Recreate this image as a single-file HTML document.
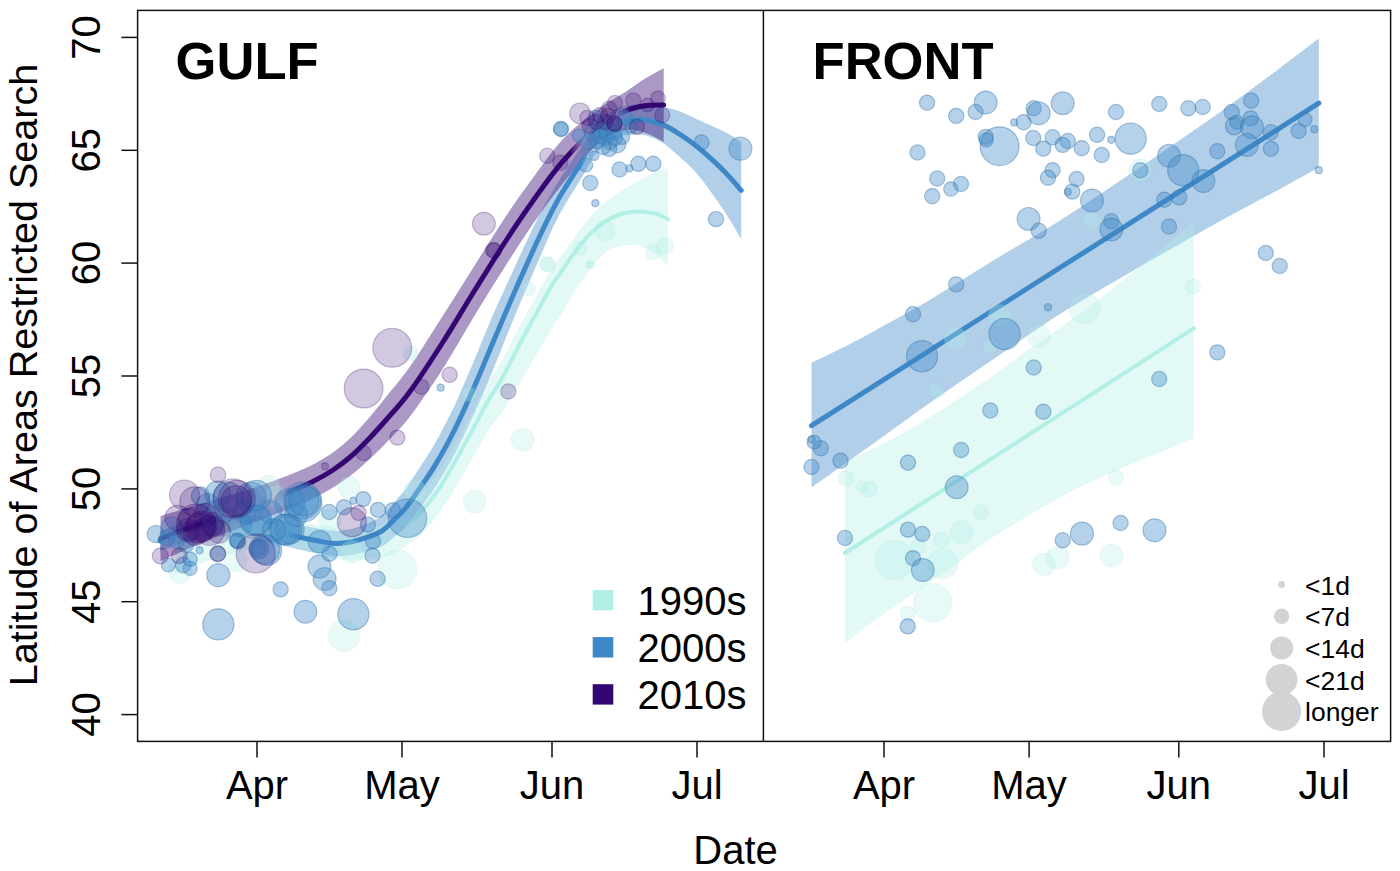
<!DOCTYPE html>
<html><head><meta charset="utf-8"><title>Latitude of Areas Restricted Search</title>
<style>html,body{margin:0;padding:0;background:#fff;}body{width:1400px;height:871px;overflow:hidden;font-family:"Liberation Sans",sans-serif;}</style></head>
<body>
<svg width="1400" height="871" viewBox="0 0 1400 871" style="display:block;font-family:'Liberation Sans',sans-serif">
<rect width="1400" height="871" fill="#fff"/>
<g id="gulf">
<path d="M160.0,531.0C165.0,529.3 180.0,523.6 190.0,521.0C200.0,518.4 210.0,516.4 220.0,515.5C230.0,514.6 240.0,514.8 250.0,515.5C260.0,516.2 271.7,518.5 280.0,520.0C288.3,521.5 293.8,523.4 300.0,524.8C306.2,526.2 311.5,527.3 317.2,528.3C322.9,529.3 328.6,530.8 334.4,530.9C340.1,531.0 345.9,530.3 351.7,528.9C357.4,527.5 363.7,525.0 368.9,522.7C374.1,520.4 378.3,518.5 382.7,514.9C387.1,511.3 391.5,505.2 395.3,500.9C399.1,496.6 400.7,495.8 405.6,489.0C410.5,482.2 419.9,467.5 424.7,460.1C429.5,452.7 430.6,451.2 434.3,444.6C438.1,438.0 443.0,428.9 447.2,420.6C451.4,412.3 454.3,406.3 459.3,395.0C464.3,383.7 471.5,366.6 477.2,353.0C482.9,339.4 487.3,327.9 493.6,313.5C499.9,299.1 507.6,282.3 515.0,266.4C522.4,250.5 530.8,232.0 537.9,218.0C545.0,204.0 550.4,194.8 557.9,182.5C565.4,170.2 576.6,154.3 583.0,144.5C589.4,134.7 590.7,129.4 596.3,123.4C601.9,117.4 610.9,111.8 616.5,108.7C622.1,105.7 624.9,105.8 629.8,105.1C634.7,104.4 640.2,104.2 646.0,104.5C651.8,104.8 658.6,105.7 664.3,106.9C670.0,108.1 674.9,109.6 680.3,111.6C685.6,113.6 690.6,116.4 696.4,119.0C702.1,121.6 709.4,124.7 714.8,127.2C720.2,129.7 724.2,131.4 728.6,133.9C733.0,136.4 739.1,140.6 741.2,141.9L741.2,238.9C739.1,235.4 733.0,224.9 728.6,217.9C724.2,210.9 720.2,204.7 714.8,197.2C709.4,189.7 702.1,179.6 696.4,173.0C690.6,166.4 685.6,162.4 680.3,157.6C674.9,152.8 670.0,147.6 664.3,143.9C658.6,140.2 651.8,137.0 646.0,135.5C640.2,134.0 634.7,134.7 629.8,135.1C624.9,135.5 622.1,134.6 616.5,137.7C610.9,140.8 601.9,147.1 596.3,153.4C590.7,159.7 589.4,164.8 583.0,175.5C576.6,186.2 565.4,203.1 557.9,217.5C550.4,231.9 545.0,245.7 537.9,262.0C530.8,278.4 522.4,297.9 515.0,315.6C507.6,333.4 499.9,353.3 493.6,368.5C487.3,383.7 482.9,394.2 477.2,407.0C471.5,419.8 464.3,434.9 459.3,445.0C454.3,455.1 451.4,460.3 447.2,467.6C443.0,474.9 438.1,482.9 434.3,488.6C430.6,494.4 429.5,495.7 424.7,502.1C419.9,508.5 410.5,521.4 405.6,527.0C400.7,532.6 399.1,532.8 395.3,535.9C391.5,539.0 387.1,543.4 382.7,545.9C378.3,548.4 374.1,549.2 368.9,550.7C363.7,552.2 357.4,554.0 351.7,554.9C345.9,555.8 340.1,556.2 334.4,555.9C328.6,555.6 322.9,554.3 317.2,553.3C311.5,552.3 306.2,551.2 300.0,549.8C293.8,548.4 288.3,546.9 280.0,545.0C271.7,543.1 260.0,539.9 250.0,538.5C240.0,537.1 230.0,536.1 220.0,536.5C210.0,536.9 200.0,538.6 190.0,541.0C180.0,543.4 165.0,549.3 160.0,551.0Z" fill="rgb(62,136,200)" fill-opacity="0.40"/>
<path d="M175.0,530.0C179.2,529.3 190.8,527.3 200.0,526.0C209.2,524.7 220.0,523.0 230.0,522.0C240.0,521.0 250.0,520.2 260.0,520.0C270.0,519.8 280.0,520.2 290.0,521.0C300.0,521.8 310.8,523.7 320.0,525.0C329.2,526.3 336.7,528.6 345.0,529.0C353.3,529.4 362.1,529.2 370.0,527.5C377.9,525.8 384.7,523.9 392.5,519.0C400.3,514.1 409.7,504.9 416.7,498.0C423.7,491.1 428.7,485.3 434.3,477.6C439.9,469.9 445.0,460.9 450.4,451.8C455.8,442.7 460.1,434.6 466.5,423.0C472.9,411.4 482.8,392.2 488.6,382.0C494.4,371.8 495.7,371.8 501.2,362.0C506.7,352.2 513.5,337.7 521.4,323.0C529.3,308.3 541.9,285.4 548.6,274.0C555.3,262.6 557.7,260.7 561.8,254.9C565.9,249.1 569.2,244.5 573.0,239.3C576.8,234.1 580.3,228.9 584.3,223.9C588.3,218.9 592.8,213.7 597.1,209.5C601.4,205.3 605.4,202.1 610.0,198.7C614.6,195.3 619.4,192.2 624.5,189.0C629.6,185.8 635.1,182.3 640.5,179.4C645.9,176.5 652.0,173.7 656.6,171.8C661.2,169.9 666.1,168.8 668.0,168.2L668.0,266.2C666.1,264.3 661.2,258.1 656.6,254.8C652.0,251.5 645.9,248.0 640.5,246.4C635.1,244.8 629.6,244.9 624.5,245.5C619.4,246.1 614.6,247.2 610.0,249.7C605.4,252.2 601.4,255.9 597.1,260.5C592.8,265.1 588.3,271.7 584.3,277.4C580.3,283.1 576.8,288.9 573.0,294.8C569.2,300.7 565.9,306.4 561.8,312.9C557.7,319.4 555.3,322.8 548.6,334.0C541.9,345.2 529.3,366.8 521.4,380.0C513.5,393.2 506.7,405.1 501.2,413.5C495.7,421.9 494.4,421.3 488.6,430.5C482.8,439.7 472.9,457.6 466.5,468.5C460.1,479.4 455.8,487.3 450.4,495.8C445.0,504.3 439.9,512.6 434.3,519.6C428.7,526.6 423.7,532.3 416.7,538.0C409.7,543.7 400.3,550.4 392.5,554.0C384.7,557.6 377.9,558.5 370.0,559.5C362.1,560.5 353.3,560.8 345.0,560.0C336.7,559.2 329.2,557.2 320.0,555.0C310.8,552.8 300.0,548.2 290.0,547.0C280.0,545.8 270.0,546.8 260.0,548.0C250.0,549.2 240.0,551.3 230.0,554.0C220.0,556.7 209.2,560.7 200.0,564.0C190.8,567.3 179.2,572.3 175.0,574.0Z" fill="rgb(177,239,231)" fill-opacity="0.37"/>
<path d="M160.5,516.0C165.4,514.5 181.2,509.7 190.0,507.0C198.8,504.3 203.5,502.9 213.5,499.9C223.5,496.9 238.9,492.6 250.0,489.0C261.1,485.4 269.7,482.6 280.0,478.6C290.3,474.6 303.2,469.4 312.0,465.0C320.8,460.6 326.3,457.2 333.0,452.5C339.7,447.8 345.8,442.5 352.0,436.5C358.2,430.5 364.3,423.3 370.0,416.7C375.7,410.1 379.3,405.4 386.0,397.0C392.7,388.6 400.4,380.2 410.0,366.5C419.6,352.8 432.9,331.2 443.6,314.5C454.3,297.8 463.8,282.5 474.3,266.0C484.8,249.5 496.5,230.3 506.4,215.5C516.3,200.7 524.0,189.9 533.6,177.0C543.2,164.1 552.9,149.5 564.0,138.0C575.1,126.5 589.8,115.7 600.0,108.0C610.2,100.3 617.8,96.9 625.3,92.0C632.8,87.1 638.4,82.8 644.8,78.8C651.2,74.8 660.6,70.0 663.7,68.2L663.7,141.8C660.6,140.3 651.2,134.8 644.8,132.8C638.4,130.8 632.8,128.5 625.3,130.0C617.8,131.5 610.2,133.3 600.0,142.0C589.8,150.7 575.1,168.5 564.0,182.0C552.9,195.5 543.2,209.2 533.6,223.0C524.0,236.8 516.3,249.0 506.4,264.5C496.5,280.0 484.8,298.8 474.3,316.0C463.8,333.2 454.3,350.8 443.6,367.5C432.9,384.2 419.6,403.9 410.0,416.5C400.4,429.1 392.7,436.0 386.0,443.0C379.3,450.0 375.7,453.4 370.0,458.7C364.3,463.9 358.2,469.7 352.0,474.5C345.8,479.3 339.7,483.4 333.0,487.5C326.3,491.6 320.8,494.8 312.0,499.0C303.2,503.2 290.3,508.4 280.0,512.6C269.7,516.8 261.1,519.8 250.0,524.0C238.9,528.2 223.5,533.9 213.5,537.9C203.5,541.9 198.8,544.1 190.0,548.0C181.2,551.9 165.4,558.8 160.5,561.0Z" fill="rgb(52,6,114)" fill-opacity="0.41"/>
<defs><linearGradient id="gP" gradientUnits="userSpaceOnUse" x1="150" y1="0" x2="800" y2="0"><stop offset="0.0000" stop-color="rgb(153,153,153)"/><stop offset="0.0923" stop-color="rgb(140,140,140)"/><stop offset="0.1138" stop-color="rgb(0,0,0)"/><stop offset="0.1969" stop-color="rgb(0,0,0)"/><stop offset="0.2277" stop-color="rgb(255,255,255)"/><stop offset="0.6462" stop-color="rgb(255,255,255)"/><stop offset="0.6677" stop-color="rgb(0,0,0)"/><stop offset="0.7169" stop-color="rgb(0,0,0)"/><stop offset="0.7385" stop-color="rgb(255,255,255)"/><stop offset="1.0000" stop-color="rgb(255,255,255)"/></linearGradient><mask id="mP" maskUnits="userSpaceOnUse" x="0" y="0" width="1400" height="871"><rect x="0" y="0" width="1400" height="871" fill="url(#gP)"/></mask><linearGradient id="gB" gradientUnits="userSpaceOnUse" x1="150" y1="0" x2="800" y2="0"><stop offset="0.0000" stop-color="rgb(255,255,255)"/><stop offset="0.0200" stop-color="rgb(255,255,255)"/><stop offset="0.0262" stop-color="rgb(0,0,0)"/><stop offset="0.2062" stop-color="rgb(0,0,0)"/><stop offset="0.2308" stop-color="rgb(255,255,255)"/><stop offset="0.6631" stop-color="rgb(255,255,255)"/><stop offset="0.6800" stop-color="rgb(0,0,0)"/><stop offset="0.7138" stop-color="rgb(0,0,0)"/><stop offset="0.7338" stop-color="rgb(255,255,255)"/><stop offset="1.0000" stop-color="rgb(255,255,255)"/></linearGradient><mask id="mB" maskUnits="userSpaceOnUse" x="0" y="0" width="1400" height="871"><rect x="0" y="0" width="1400" height="871" fill="url(#gB)"/></mask><linearGradient id="gT" gradientUnits="userSpaceOnUse" x1="150" y1="0" x2="800" y2="0"><stop offset="0.0000" stop-color="rgb(0,0,0)"/><stop offset="0.3877" stop-color="rgb(0,0,0)"/><stop offset="0.4154" stop-color="rgb(255,255,255)"/><stop offset="1.0000" stop-color="rgb(255,255,255)"/></linearGradient><mask id="mT" maskUnits="userSpaceOnUse" x="0" y="0" width="1400" height="871"><rect x="0" y="0" width="1400" height="871" fill="url(#gT)"/></mask></defs>
<path d="M175.0,552.0C179.2,550.8 190.8,547.3 200.0,545.0C209.2,542.7 220.0,539.8 230.0,538.0C240.0,536.2 250.0,534.7 260.0,534.0C270.0,533.3 280.0,533.2 290.0,534.0C300.0,534.8 310.8,537.3 320.0,539.0C329.2,540.7 336.7,543.2 345.0,544.0C353.3,544.8 362.1,544.8 370.0,543.5C377.9,542.2 384.7,540.6 392.5,536.0C400.3,531.4 409.7,522.7 416.7,516.0C423.7,509.3 428.7,503.3 434.3,495.6C439.9,487.9 445.0,478.9 450.4,469.8C455.8,460.7 460.1,452.6 466.5,441.0C472.9,429.4 482.8,410.2 488.6,400.0C494.4,389.8 495.7,389.8 501.2,380.0C506.7,370.2 513.5,355.8 521.4,341.0C529.3,326.2 541.9,302.7 548.6,291.0C555.3,279.3 557.7,276.9 561.8,270.9C565.9,264.9 569.2,259.9 573.0,254.8C576.8,249.7 580.3,245.0 584.3,240.4C588.3,235.8 592.8,231.1 597.1,227.5C601.4,223.9 605.4,221.1 610.0,218.7C614.6,216.3 619.4,214.2 624.5,213.0C629.6,211.8 635.1,211.3 640.5,211.4C645.9,211.5 652.0,212.5 656.6,213.8C661.2,215.1 666.1,218.3 668.0,219.2" fill="none" stroke="rgb(177,239,231)" stroke-width="4" stroke-linecap="round" mask="url(#mT)"/>
<path d="M160.0,541.0C165.0,539.3 180.0,533.5 190.0,531.0C200.0,528.5 210.0,526.7 220.0,526.0C230.0,525.3 240.0,525.9 250.0,527.0C260.0,528.1 271.7,530.8 280.0,532.5C288.3,534.2 293.8,535.9 300.0,537.3C306.2,538.7 311.5,539.8 317.2,540.8C322.9,541.8 328.6,543.2 334.4,543.4C340.1,543.6 345.9,543.0 351.7,541.9C357.4,540.8 363.7,538.6 368.9,536.7C374.1,534.8 378.3,533.5 382.7,530.4C387.1,527.3 391.5,522.1 395.3,518.4C399.1,514.7 400.7,514.2 405.6,508.0C410.5,501.8 419.9,488.0 424.7,481.1C429.5,474.2 430.6,472.8 434.3,466.6C438.1,460.4 443.0,451.9 447.2,444.1C451.4,436.3 454.3,430.7 459.3,420.0C464.3,409.3 471.5,393.2 477.2,380.0C482.9,366.8 487.3,355.8 493.6,341.0C499.9,326.2 507.6,307.8 515.0,291.0C522.4,274.2 530.8,255.2 537.9,240.0C545.0,224.8 550.4,213.3 557.9,200.0C565.4,186.7 576.6,170.3 583.0,160.0C589.4,149.7 590.7,144.5 596.3,138.4C601.9,132.3 610.9,126.2 616.5,123.2C622.1,120.2 624.9,120.6 629.8,120.1C634.7,119.6 640.2,119.1 646.0,120.0C651.8,120.9 658.6,123.0 664.3,125.4C670.0,127.8 674.9,131.2 680.3,134.6C685.6,138.0 690.6,141.4 696.4,146.0C702.1,150.6 709.4,157.2 714.8,162.2C720.2,167.2 724.2,171.2 728.6,175.9C733.0,180.6 739.1,188.0 741.2,190.4" fill="none" stroke="rgb(62,136,200)" stroke-width="5" stroke-linecap="round" mask="url(#mB)"/>
<path d="M160.5,538.5C165.4,536.7 181.2,530.8 190.0,527.5C198.8,524.2 203.5,522.4 213.5,518.9C223.5,515.4 238.9,510.4 250.0,506.5C261.1,502.6 269.7,499.7 280.0,495.6C290.3,491.5 303.2,486.3 312.0,482.0C320.8,477.7 326.3,474.4 333.0,470.0C339.7,465.6 345.8,460.9 352.0,455.5C358.2,450.1 364.3,443.6 370.0,437.7C375.7,431.8 379.3,427.7 386.0,420.0C392.7,412.3 400.4,404.7 410.0,391.5C419.6,378.3 432.9,357.8 443.6,341.0C454.3,324.2 463.8,307.8 474.3,291.0C484.8,274.2 496.5,255.2 506.4,240.0C516.3,224.8 524.0,213.3 533.6,200.0C543.2,186.7 552.9,172.5 564.0,160.0C575.1,147.5 589.8,133.2 600.0,125.0C610.2,116.8 617.8,114.2 625.3,111.0C632.8,107.8 638.4,106.8 644.8,105.8C651.2,104.8 660.6,105.1 663.7,105.0" fill="none" stroke="rgb(52,6,114)" stroke-width="5" stroke-linecap="round" mask="url(#mP)"/>
<circle cx="344.0" cy="635.7" r="15.6" fill="rgb(177,239,231)" fill-opacity="0.30" stroke="rgb(150,203,196)" stroke-opacity="0.10" stroke-width="1.2"/>
<circle cx="397.6" cy="569.5" r="19.4" fill="rgb(177,239,231)" fill-opacity="0.30" stroke="rgb(150,203,196)" stroke-opacity="0.10" stroke-width="1.2"/>
<circle cx="474.7" cy="501.7" r="11.4" fill="rgb(177,239,231)" fill-opacity="0.30" stroke="rgb(150,203,196)" stroke-opacity="0.10" stroke-width="1.2"/>
<circle cx="522.7" cy="439.8" r="11.4" fill="rgb(177,239,231)" fill-opacity="0.30" stroke="rgb(150,203,196)" stroke-opacity="0.10" stroke-width="1.2"/>
<circle cx="415.0" cy="491.0" r="11.4" fill="rgb(177,239,231)" fill-opacity="0.30" stroke="rgb(150,203,196)" stroke-opacity="0.10" stroke-width="1.2"/>
<circle cx="349.0" cy="487.5" r="11.0" fill="rgb(177,239,231)" fill-opacity="0.30" stroke="rgb(150,203,196)" stroke-opacity="0.10" stroke-width="1.2"/>
<circle cx="411.0" cy="353.6" r="7.6" fill="rgb(177,239,231)" fill-opacity="0.30" stroke="rgb(150,203,196)" stroke-opacity="0.10" stroke-width="1.2"/>
<circle cx="547.0" cy="264.0" r="7.6" fill="rgb(177,239,231)" fill-opacity="0.30" stroke="rgb(150,203,196)" stroke-opacity="0.10" stroke-width="1.2"/>
<circle cx="590.0" cy="264.7" r="3.5" fill="rgb(177,239,231)" fill-opacity="0.30" stroke="rgb(150,203,196)" stroke-opacity="0.10" stroke-width="1.2"/>
<circle cx="469.0" cy="394.0" r="7.6" fill="rgb(177,239,231)" fill-opacity="0.30" stroke="rgb(150,203,196)" stroke-opacity="0.10" stroke-width="1.2"/>
<circle cx="528.5" cy="289.0" r="7.0" fill="rgb(177,239,231)" fill-opacity="0.30" stroke="rgb(150,203,196)" stroke-opacity="0.10" stroke-width="1.2"/>
<circle cx="605.0" cy="230.6" r="10.0" fill="rgb(177,239,231)" fill-opacity="0.30" stroke="rgb(150,203,196)" stroke-opacity="0.10" stroke-width="1.2"/>
<circle cx="548.0" cy="264.6" r="7.6" fill="rgb(177,239,231)" fill-opacity="0.30" stroke="rgb(150,203,196)" stroke-opacity="0.10" stroke-width="1.2"/>
<circle cx="653.0" cy="252.5" r="7.6" fill="rgb(177,239,231)" fill-opacity="0.30" stroke="rgb(150,203,196)" stroke-opacity="0.10" stroke-width="1.2"/>
<circle cx="665.0" cy="246.0" r="8.5" fill="rgb(177,239,231)" fill-opacity="0.30" stroke="rgb(150,203,196)" stroke-opacity="0.10" stroke-width="1.2"/>
<circle cx="580.0" cy="248.0" r="7.0" fill="rgb(177,239,231)" fill-opacity="0.30" stroke="rgb(150,203,196)" stroke-opacity="0.10" stroke-width="1.2"/>
<circle cx="590.7" cy="264.6" r="3.5" fill="rgb(177,239,231)" fill-opacity="0.30" stroke="rgb(150,203,196)" stroke-opacity="0.10" stroke-width="1.2"/>
<circle cx="276.3" cy="497.0" r="11.5" fill="rgb(177,239,231)" fill-opacity="0.30" stroke="rgb(150,203,196)" stroke-opacity="0.10" stroke-width="1.2"/>
<circle cx="351.7" cy="551.7" r="11.5" fill="rgb(177,239,231)" fill-opacity="0.30" stroke="rgb(150,203,196)" stroke-opacity="0.10" stroke-width="1.2"/>
<circle cx="330.0" cy="520.0" r="11.0" fill="rgb(177,239,231)" fill-opacity="0.30" stroke="rgb(150,203,196)" stroke-opacity="0.10" stroke-width="1.2"/>
<circle cx="180.0" cy="572.0" r="11.5" fill="rgb(177,239,231)" fill-opacity="0.30" stroke="rgb(150,203,196)" stroke-opacity="0.10" stroke-width="1.2"/>
<circle cx="236.0" cy="560.0" r="11.5" fill="rgb(177,239,231)" fill-opacity="0.30" stroke="rgb(150,203,196)" stroke-opacity="0.10" stroke-width="1.2"/>
<circle cx="236.0" cy="531.0" r="11.5" fill="rgb(177,239,231)" fill-opacity="0.30" stroke="rgb(150,203,196)" stroke-opacity="0.10" stroke-width="1.2"/>
<circle cx="268.6" cy="486.7" r="11.5" fill="rgb(177,239,231)" fill-opacity="0.30" stroke="rgb(150,203,196)" stroke-opacity="0.10" stroke-width="1.2"/>
<circle cx="218.3" cy="624.4" r="15.6" fill="rgb(62,136,200)" fill-opacity="0.38" stroke="rgb(52,115,170)" stroke-opacity="0.42" stroke-width="1.2"/>
<circle cx="305.4" cy="611.7" r="11.4" fill="rgb(62,136,200)" fill-opacity="0.38" stroke="rgb(52,115,170)" stroke-opacity="0.42" stroke-width="1.2"/>
<circle cx="353.4" cy="614.2" r="15.6" fill="rgb(62,136,200)" fill-opacity="0.38" stroke="rgb(52,115,170)" stroke-opacity="0.42" stroke-width="1.2"/>
<circle cx="280.6" cy="589.4" r="7.6" fill="rgb(62,136,200)" fill-opacity="0.38" stroke="rgb(52,115,170)" stroke-opacity="0.42" stroke-width="1.2"/>
<circle cx="377.6" cy="578.8" r="7.6" fill="rgb(62,136,200)" fill-opacity="0.38" stroke="rgb(52,115,170)" stroke-opacity="0.42" stroke-width="1.2"/>
<circle cx="218.3" cy="575.2" r="11.5" fill="rgb(62,136,200)" fill-opacity="0.38" stroke="rgb(52,115,170)" stroke-opacity="0.42" stroke-width="1.2"/>
<circle cx="324.6" cy="579.0" r="11.4" fill="rgb(62,136,200)" fill-opacity="0.38" stroke="rgb(52,115,170)" stroke-opacity="0.42" stroke-width="1.2"/>
<circle cx="329.4" cy="588.2" r="7.6" fill="rgb(62,136,200)" fill-opacity="0.38" stroke="rgb(52,115,170)" stroke-opacity="0.42" stroke-width="1.2"/>
<circle cx="319.4" cy="566.5" r="11.4" fill="rgb(62,136,200)" fill-opacity="0.38" stroke="rgb(52,115,170)" stroke-opacity="0.42" stroke-width="1.2"/>
<circle cx="407.5" cy="518.3" r="19.2" fill="rgb(62,136,200)" fill-opacity="0.38" stroke="rgb(52,115,170)" stroke-opacity="0.42" stroke-width="1.2"/>
<circle cx="372.5" cy="555.7" r="7.6" fill="rgb(62,136,200)" fill-opacity="0.38" stroke="rgb(52,115,170)" stroke-opacity="0.42" stroke-width="1.2"/>
<circle cx="329.4" cy="553.8" r="7.6" fill="rgb(62,136,200)" fill-opacity="0.38" stroke="rgb(52,115,170)" stroke-opacity="0.42" stroke-width="1.2"/>
<circle cx="319.5" cy="541.7" r="11.2" fill="rgb(62,136,200)" fill-opacity="0.38" stroke="rgb(52,115,170)" stroke-opacity="0.42" stroke-width="1.2"/>
<circle cx="329.3" cy="512.0" r="7.6" fill="rgb(62,136,200)" fill-opacity="0.38" stroke="rgb(52,115,170)" stroke-opacity="0.42" stroke-width="1.2"/>
<circle cx="344.0" cy="507.2" r="7.6" fill="rgb(62,136,200)" fill-opacity="0.38" stroke="rgb(52,115,170)" stroke-opacity="0.42" stroke-width="1.2"/>
<circle cx="353.4" cy="500.8" r="3.5" fill="rgb(62,136,200)" fill-opacity="0.38" stroke="rgb(52,115,170)" stroke-opacity="0.42" stroke-width="1.2"/>
<circle cx="363.3" cy="499.0" r="7.4" fill="rgb(62,136,200)" fill-opacity="0.38" stroke="rgb(52,115,170)" stroke-opacity="0.42" stroke-width="1.2"/>
<circle cx="378.0" cy="509.9" r="7.6" fill="rgb(62,136,200)" fill-opacity="0.38" stroke="rgb(52,115,170)" stroke-opacity="0.42" stroke-width="1.2"/>
<circle cx="392.8" cy="510.2" r="7.6" fill="rgb(62,136,200)" fill-opacity="0.38" stroke="rgb(52,115,170)" stroke-opacity="0.42" stroke-width="1.2"/>
<circle cx="367.9" cy="524.6" r="7.6" fill="rgb(62,136,200)" fill-opacity="0.38" stroke="rgb(52,115,170)" stroke-opacity="0.42" stroke-width="1.2"/>
<circle cx="373.0" cy="541.2" r="7.6" fill="rgb(62,136,200)" fill-opacity="0.38" stroke="rgb(52,115,170)" stroke-opacity="0.42" stroke-width="1.2"/>
<circle cx="440.7" cy="387.7" r="3.5" fill="rgb(62,136,200)" fill-opacity="0.38" stroke="rgb(52,115,170)" stroke-opacity="0.42" stroke-width="1.2"/>
<circle cx="155.7" cy="534.0" r="8.6" fill="rgb(62,136,200)" fill-opacity="0.38" stroke="rgb(52,115,170)" stroke-opacity="0.42" stroke-width="1.2"/>
<circle cx="200.5" cy="496.0" r="9.2" fill="rgb(62,136,200)" fill-opacity="0.38" stroke="rgb(52,115,170)" stroke-opacity="0.42" stroke-width="1.2"/>
<circle cx="217.8" cy="493.8" r="12.6" fill="rgb(62,136,200)" fill-opacity="0.38" stroke="rgb(52,115,170)" stroke-opacity="0.42" stroke-width="1.2"/>
<circle cx="228.0" cy="497.2" r="15.0" fill="rgb(62,136,200)" fill-opacity="0.38" stroke="rgb(52,115,170)" stroke-opacity="0.42" stroke-width="1.2"/>
<circle cx="251.0" cy="497.2" r="15.0" fill="rgb(62,136,200)" fill-opacity="0.38" stroke="rgb(52,115,170)" stroke-opacity="0.42" stroke-width="1.2"/>
<circle cx="256.8" cy="520.2" r="15.0" fill="rgb(62,136,200)" fill-opacity="0.38" stroke="rgb(52,115,170)" stroke-opacity="0.42" stroke-width="1.2"/>
<circle cx="264.8" cy="548.9" r="15.0" fill="rgb(62,136,200)" fill-opacity="0.38" stroke="rgb(52,115,170)" stroke-opacity="0.42" stroke-width="1.2"/>
<circle cx="257.4" cy="548.4" r="8.2" fill="rgb(62,136,200)" fill-opacity="0.38" stroke="rgb(52,115,170)" stroke-opacity="0.42" stroke-width="1.2"/>
<circle cx="237.9" cy="541.4" r="7.8" fill="rgb(62,136,200)" fill-opacity="0.38" stroke="rgb(52,115,170)" stroke-opacity="0.42" stroke-width="1.2"/>
<circle cx="284.4" cy="529.4" r="15.0" fill="rgb(62,136,200)" fill-opacity="0.38" stroke="rgb(52,115,170)" stroke-opacity="0.42" stroke-width="1.2"/>
<circle cx="290.0" cy="503.0" r="15.0" fill="rgb(62,136,200)" fill-opacity="0.38" stroke="rgb(52,115,170)" stroke-opacity="0.42" stroke-width="1.2"/>
<circle cx="302.5" cy="500.4" r="18.5" fill="rgb(62,136,200)" fill-opacity="0.38" stroke="rgb(52,115,170)" stroke-opacity="0.42" stroke-width="1.2"/>
<circle cx="289.6" cy="529.3" r="14.5" fill="rgb(62,136,200)" fill-opacity="0.38" stroke="rgb(52,115,170)" stroke-opacity="0.42" stroke-width="1.2"/>
<circle cx="296.0" cy="515.0" r="11.5" fill="rgb(62,136,200)" fill-opacity="0.38" stroke="rgb(52,115,170)" stroke-opacity="0.42" stroke-width="1.2"/>
<circle cx="168.4" cy="565.0" r="7.0" fill="rgb(62,136,200)" fill-opacity="0.38" stroke="rgb(52,115,170)" stroke-opacity="0.42" stroke-width="1.2"/>
<circle cx="183.3" cy="565.0" r="7.8" fill="rgb(62,136,200)" fill-opacity="0.38" stroke="rgb(52,115,170)" stroke-opacity="0.42" stroke-width="1.2"/>
<circle cx="190.2" cy="568.4" r="7.0" fill="rgb(62,136,200)" fill-opacity="0.38" stroke="rgb(52,115,170)" stroke-opacity="0.42" stroke-width="1.2"/>
<circle cx="190.2" cy="559.2" r="7.0" fill="rgb(62,136,200)" fill-opacity="0.38" stroke="rgb(52,115,170)" stroke-opacity="0.42" stroke-width="1.2"/>
<circle cx="199.5" cy="550.2" r="3.5" fill="rgb(62,136,200)" fill-opacity="0.38" stroke="rgb(52,115,170)" stroke-opacity="0.42" stroke-width="1.2"/>
<circle cx="217.8" cy="553.6" r="7.8" fill="rgb(62,136,200)" fill-opacity="0.38" stroke="rgb(52,115,170)" stroke-opacity="0.42" stroke-width="1.2"/>
<circle cx="236.4" cy="540.7" r="7.0" fill="rgb(62,136,200)" fill-opacity="0.38" stroke="rgb(52,115,170)" stroke-opacity="0.42" stroke-width="1.2"/>
<circle cx="167.0" cy="538.0" r="7.6" fill="rgb(62,136,200)" fill-opacity="0.38" stroke="rgb(52,115,170)" stroke-opacity="0.42" stroke-width="1.2"/>
<circle cx="176.4" cy="541.0" r="7.6" fill="rgb(62,136,200)" fill-opacity="0.38" stroke="rgb(52,115,170)" stroke-opacity="0.42" stroke-width="1.2"/>
<circle cx="172.0" cy="528.0" r="11.0" fill="rgb(62,136,200)" fill-opacity="0.38" stroke="rgb(52,115,170)" stroke-opacity="0.42" stroke-width="1.2"/>
<circle cx="245.0" cy="512.0" r="11.5" fill="rgb(62,136,200)" fill-opacity="0.38" stroke="rgb(52,115,170)" stroke-opacity="0.42" stroke-width="1.2"/>
<circle cx="270.0" cy="512.0" r="11.5" fill="rgb(62,136,200)" fill-opacity="0.38" stroke="rgb(52,115,170)" stroke-opacity="0.42" stroke-width="1.2"/>
<circle cx="213.0" cy="518.0" r="11.5" fill="rgb(62,136,200)" fill-opacity="0.38" stroke="rgb(52,115,170)" stroke-opacity="0.42" stroke-width="1.2"/>
<circle cx="186.0" cy="545.0" r="7.6" fill="rgb(62,136,200)" fill-opacity="0.38" stroke="rgb(52,115,170)" stroke-opacity="0.42" stroke-width="1.2"/>
<circle cx="208.0" cy="505.0" r="11.5" fill="rgb(62,136,200)" fill-opacity="0.38" stroke="rgb(52,115,170)" stroke-opacity="0.42" stroke-width="1.2"/>
<circle cx="240.0" cy="525.0" r="11.5" fill="rgb(62,136,200)" fill-opacity="0.38" stroke="rgb(52,115,170)" stroke-opacity="0.42" stroke-width="1.2"/>
<circle cx="274.0" cy="530.0" r="11.5" fill="rgb(62,136,200)" fill-opacity="0.38" stroke="rgb(52,115,170)" stroke-opacity="0.42" stroke-width="1.2"/>
<circle cx="225.0" cy="515.0" r="7.6" fill="rgb(62,136,200)" fill-opacity="0.38" stroke="rgb(52,115,170)" stroke-opacity="0.42" stroke-width="1.2"/>
<circle cx="303.5" cy="503.3" r="18.4" fill="rgb(62,136,200)" fill-opacity="0.38" stroke="rgb(52,115,170)" stroke-opacity="0.42" stroke-width="1.2"/>
<circle cx="304.0" cy="501.0" r="15.0" fill="rgb(62,136,200)" fill-opacity="0.38" stroke="rgb(52,115,170)" stroke-opacity="0.42" stroke-width="1.2"/>
<circle cx="286.3" cy="529.7" r="15.5" fill="rgb(62,136,200)" fill-opacity="0.38" stroke="rgb(52,115,170)" stroke-opacity="0.42" stroke-width="1.2"/>
<circle cx="256.4" cy="495.3" r="15.0" fill="rgb(62,136,200)" fill-opacity="0.38" stroke="rgb(52,115,170)" stroke-opacity="0.42" stroke-width="1.2"/>
<circle cx="255.3" cy="520.5" r="15.0" fill="rgb(62,136,200)" fill-opacity="0.38" stroke="rgb(52,115,170)" stroke-opacity="0.42" stroke-width="1.2"/>
<circle cx="258.7" cy="549.2" r="9.8" fill="rgb(62,136,200)" fill-opacity="0.38" stroke="rgb(52,115,170)" stroke-opacity="0.42" stroke-width="1.2"/>
<circle cx="266.7" cy="550.4" r="15.0" fill="rgb(62,136,200)" fill-opacity="0.38" stroke="rgb(52,115,170)" stroke-opacity="0.42" stroke-width="1.2"/>
<circle cx="237.5" cy="540.6" r="7.5" fill="rgb(62,136,200)" fill-opacity="0.38" stroke="rgb(52,115,170)" stroke-opacity="0.42" stroke-width="1.2"/>
<circle cx="561.0" cy="129.0" r="7.6" fill="rgb(62,136,200)" fill-opacity="0.38" stroke="rgb(52,115,170)" stroke-opacity="0.42" stroke-width="1.2"/>
<circle cx="596.0" cy="117.9" r="7.6" fill="rgb(62,136,200)" fill-opacity="0.38" stroke="rgb(52,115,170)" stroke-opacity="0.42" stroke-width="1.2"/>
<circle cx="614.4" cy="132.8" r="7.6" fill="rgb(62,136,200)" fill-opacity="0.38" stroke="rgb(52,115,170)" stroke-opacity="0.42" stroke-width="1.2"/>
<circle cx="631.0" cy="127.0" r="6.0" fill="rgb(62,136,200)" fill-opacity="0.38" stroke="rgb(52,115,170)" stroke-opacity="0.42" stroke-width="1.2"/>
<circle cx="578.8" cy="135.7" r="6.5" fill="rgb(62,136,200)" fill-opacity="0.38" stroke="rgb(52,115,170)" stroke-opacity="0.42" stroke-width="1.2"/>
<circle cx="617.3" cy="144.3" r="8.5" fill="rgb(62,136,200)" fill-opacity="0.38" stroke="rgb(52,115,170)" stroke-opacity="0.42" stroke-width="1.2"/>
<circle cx="609.2" cy="148.9" r="7.6" fill="rgb(62,136,200)" fill-opacity="0.38" stroke="rgb(52,115,170)" stroke-opacity="0.42" stroke-width="1.2"/>
<circle cx="610.0" cy="142.0" r="7.6" fill="rgb(62,136,200)" fill-opacity="0.38" stroke="rgb(52,115,170)" stroke-opacity="0.42" stroke-width="1.2"/>
<circle cx="594.3" cy="155.8" r="4.6" fill="rgb(62,136,200)" fill-opacity="0.38" stroke="rgb(52,115,170)" stroke-opacity="0.42" stroke-width="1.2"/>
<circle cx="585.7" cy="165.0" r="7.0" fill="rgb(62,136,200)" fill-opacity="0.38" stroke="rgb(52,115,170)" stroke-opacity="0.42" stroke-width="1.2"/>
<circle cx="619.5" cy="169.5" r="7.6" fill="rgb(62,136,200)" fill-opacity="0.38" stroke="rgb(52,115,170)" stroke-opacity="0.42" stroke-width="1.2"/>
<circle cx="629.4" cy="168.4" r="3.5" fill="rgb(62,136,200)" fill-opacity="0.38" stroke="rgb(52,115,170)" stroke-opacity="0.42" stroke-width="1.2"/>
<circle cx="638.4" cy="163.8" r="7.6" fill="rgb(62,136,200)" fill-opacity="0.38" stroke="rgb(52,115,170)" stroke-opacity="0.42" stroke-width="1.2"/>
<circle cx="653.3" cy="163.8" r="7.6" fill="rgb(62,136,200)" fill-opacity="0.38" stroke="rgb(52,115,170)" stroke-opacity="0.42" stroke-width="1.2"/>
<circle cx="590.3" cy="183.0" r="7.6" fill="rgb(62,136,200)" fill-opacity="0.38" stroke="rgb(52,115,170)" stroke-opacity="0.42" stroke-width="1.2"/>
<circle cx="595.3" cy="203.2" r="3.5" fill="rgb(62,136,200)" fill-opacity="0.38" stroke="rgb(52,115,170)" stroke-opacity="0.42" stroke-width="1.2"/>
<circle cx="701.5" cy="142.5" r="7.6" fill="rgb(62,136,200)" fill-opacity="0.38" stroke="rgb(52,115,170)" stroke-opacity="0.42" stroke-width="1.2"/>
<circle cx="740.4" cy="148.7" r="11.5" fill="rgb(62,136,200)" fill-opacity="0.38" stroke="rgb(52,115,170)" stroke-opacity="0.42" stroke-width="1.2"/>
<circle cx="716.0" cy="219.1" r="7.6" fill="rgb(62,136,200)" fill-opacity="0.38" stroke="rgb(52,115,170)" stroke-opacity="0.42" stroke-width="1.2"/>
<circle cx="600.0" cy="130.0" r="7.6" fill="rgb(62,136,200)" fill-opacity="0.38" stroke="rgb(52,115,170)" stroke-opacity="0.42" stroke-width="1.2"/>
<circle cx="605.0" cy="138.0" r="7.6" fill="rgb(62,136,200)" fill-opacity="0.38" stroke="rgb(52,115,170)" stroke-opacity="0.42" stroke-width="1.2"/>
<circle cx="588.0" cy="142.0" r="7.6" fill="rgb(62,136,200)" fill-opacity="0.38" stroke="rgb(52,115,170)" stroke-opacity="0.42" stroke-width="1.2"/>
<circle cx="625.0" cy="118.0" r="7.6" fill="rgb(62,136,200)" fill-opacity="0.38" stroke="rgb(52,115,170)" stroke-opacity="0.42" stroke-width="1.2"/>
<circle cx="603.0" cy="147.0" r="7.6" fill="rgb(62,136,200)" fill-opacity="0.38" stroke="rgb(52,115,170)" stroke-opacity="0.42" stroke-width="1.2"/>
<circle cx="597.0" cy="141.0" r="7.6" fill="rgb(62,136,200)" fill-opacity="0.38" stroke="rgb(52,115,170)" stroke-opacity="0.42" stroke-width="1.2"/>
<circle cx="622.0" cy="137.0" r="7.6" fill="rgb(62,136,200)" fill-opacity="0.38" stroke="rgb(52,115,170)" stroke-opacity="0.42" stroke-width="1.2"/>
<circle cx="561.0" cy="129.0" r="7.2" fill="rgb(62,136,200)" fill-opacity="0.38" stroke="rgb(52,115,170)" stroke-opacity="0.42" stroke-width="1.2"/>
<circle cx="606.0" cy="132.0" r="7.6" fill="rgb(62,136,200)" fill-opacity="0.38" stroke="rgb(52,115,170)" stroke-opacity="0.42" stroke-width="1.2"/>
<circle cx="612.0" cy="126.0" r="7.6" fill="rgb(62,136,200)" fill-opacity="0.38" stroke="rgb(52,115,170)" stroke-opacity="0.42" stroke-width="1.2"/>
<circle cx="600.0" cy="136.0" r="7.6" fill="rgb(62,136,200)" fill-opacity="0.38" stroke="rgb(52,115,170)" stroke-opacity="0.42" stroke-width="1.2"/>
<circle cx="592.0" cy="132.0" r="7.6" fill="rgb(62,136,200)" fill-opacity="0.38" stroke="rgb(52,115,170)" stroke-opacity="0.42" stroke-width="1.2"/>
<circle cx="615.0" cy="138.0" r="7.6" fill="rgb(62,136,200)" fill-opacity="0.38" stroke="rgb(52,115,170)" stroke-opacity="0.42" stroke-width="1.2"/>
<circle cx="392.2" cy="347.8" r="19.4" fill="rgb(52,6,114)" fill-opacity="0.22" stroke="rgb(44,5,96)" stroke-opacity="0.26" stroke-width="1.2"/>
<circle cx="363.6" cy="388.5" r="19.4" fill="rgb(52,6,114)" fill-opacity="0.22" stroke="rgb(44,5,96)" stroke-opacity="0.26" stroke-width="1.2"/>
<circle cx="449.7" cy="374.8" r="7.6" fill="rgb(52,6,114)" fill-opacity="0.22" stroke="rgb(44,5,96)" stroke-opacity="0.26" stroke-width="1.2"/>
<circle cx="508.3" cy="391.5" r="7.6" fill="rgb(52,6,114)" fill-opacity="0.22" stroke="rgb(44,5,96)" stroke-opacity="0.26" stroke-width="1.2"/>
<circle cx="397.3" cy="437.6" r="7.6" fill="rgb(52,6,114)" fill-opacity="0.22" stroke="rgb(44,5,96)" stroke-opacity="0.26" stroke-width="1.2"/>
<circle cx="421.4" cy="386.8" r="7.6" fill="rgb(52,6,114)" fill-opacity="0.22" stroke="rgb(44,5,96)" stroke-opacity="0.26" stroke-width="1.2"/>
<circle cx="493.2" cy="250.0" r="7.6" fill="rgb(52,6,114)" fill-opacity="0.22" stroke="rgb(44,5,96)" stroke-opacity="0.26" stroke-width="1.2"/>
<circle cx="363.6" cy="453.0" r="7.6" fill="rgb(52,6,114)" fill-opacity="0.22" stroke="rgb(44,5,96)" stroke-opacity="0.26" stroke-width="1.2"/>
<circle cx="325.0" cy="466.3" r="3.5" fill="rgb(52,6,114)" fill-opacity="0.22" stroke="rgb(44,5,96)" stroke-opacity="0.26" stroke-width="1.2"/>
<circle cx="351.9" cy="522.2" r="14.5" fill="rgb(52,6,114)" fill-opacity="0.22" stroke="rgb(44,5,96)" stroke-opacity="0.26" stroke-width="1.2"/>
<circle cx="358.6" cy="512.9" r="7.6" fill="rgb(52,6,114)" fill-opacity="0.22" stroke="rgb(44,5,96)" stroke-opacity="0.26" stroke-width="1.2"/>
<circle cx="483.9" cy="223.7" r="11.4" fill="rgb(52,6,114)" fill-opacity="0.22" stroke="rgb(44,5,96)" stroke-opacity="0.26" stroke-width="1.2"/>
<circle cx="494.0" cy="250.8" r="7.6" fill="rgb(52,6,114)" fill-opacity="0.22" stroke="rgb(44,5,96)" stroke-opacity="0.26" stroke-width="1.2"/>
<circle cx="218.0" cy="474.7" r="7.8" fill="rgb(52,6,114)" fill-opacity="0.22" stroke="rgb(44,5,96)" stroke-opacity="0.26" stroke-width="1.2"/>
<circle cx="184.5" cy="495.0" r="15.0" fill="rgb(52,6,114)" fill-opacity="0.22" stroke="rgb(44,5,96)" stroke-opacity="0.26" stroke-width="1.2"/>
<circle cx="194.8" cy="501.8" r="15.0" fill="rgb(52,6,114)" fill-opacity="0.22" stroke="rgb(44,5,96)" stroke-opacity="0.26" stroke-width="1.2"/>
<circle cx="177.6" cy="517.9" r="12.6" fill="rgb(52,6,114)" fill-opacity="0.22" stroke="rgb(44,5,96)" stroke-opacity="0.26" stroke-width="1.2"/>
<circle cx="196.0" cy="523.6" r="19.5" fill="rgb(52,6,114)" fill-opacity="0.22" stroke="rgb(44,5,96)" stroke-opacity="0.26" stroke-width="1.2"/>
<circle cx="201.7" cy="526.0" r="15.0" fill="rgb(52,6,114)" fill-opacity="0.22" stroke="rgb(44,5,96)" stroke-opacity="0.26" stroke-width="1.2"/>
<circle cx="209.7" cy="530.5" r="15.0" fill="rgb(52,6,114)" fill-opacity="0.22" stroke="rgb(44,5,96)" stroke-opacity="0.26" stroke-width="1.2"/>
<circle cx="219.0" cy="531.7" r="11.5" fill="rgb(52,6,114)" fill-opacity="0.22" stroke="rgb(44,5,96)" stroke-opacity="0.26" stroke-width="1.2"/>
<circle cx="232.7" cy="498.4" r="19.5" fill="rgb(52,6,114)" fill-opacity="0.22" stroke="rgb(44,5,96)" stroke-opacity="0.26" stroke-width="1.2"/>
<circle cx="236.1" cy="500.7" r="15.0" fill="rgb(52,6,114)" fill-opacity="0.22" stroke="rgb(44,5,96)" stroke-opacity="0.26" stroke-width="1.2"/>
<circle cx="236.9" cy="498.7" r="18.4" fill="rgb(52,6,114)" fill-opacity="0.22" stroke="rgb(44,5,96)" stroke-opacity="0.26" stroke-width="1.2"/>
<circle cx="160.3" cy="555.8" r="8.0" fill="rgb(52,6,114)" fill-opacity="0.22" stroke="rgb(44,5,96)" stroke-opacity="0.26" stroke-width="1.2"/>
<circle cx="179.3" cy="555.8" r="7.8" fill="rgb(52,6,114)" fill-opacity="0.22" stroke="rgb(44,5,96)" stroke-opacity="0.26" stroke-width="1.2"/>
<circle cx="217.8" cy="554.0" r="7.8" fill="rgb(52,6,114)" fill-opacity="0.22" stroke="rgb(44,5,96)" stroke-opacity="0.26" stroke-width="1.2"/>
<circle cx="255.7" cy="553.5" r="19.5" fill="rgb(52,6,114)" fill-opacity="0.22" stroke="rgb(44,5,96)" stroke-opacity="0.26" stroke-width="1.2"/>
<circle cx="190.0" cy="520.0" r="11.5" fill="rgb(52,6,114)" fill-opacity="0.22" stroke="rgb(44,5,96)" stroke-opacity="0.26" stroke-width="1.2"/>
<circle cx="205.0" cy="515.0" r="11.5" fill="rgb(52,6,114)" fill-opacity="0.22" stroke="rgb(44,5,96)" stroke-opacity="0.26" stroke-width="1.2"/>
<circle cx="188.0" cy="530.0" r="11.5" fill="rgb(52,6,114)" fill-opacity="0.22" stroke="rgb(44,5,96)" stroke-opacity="0.26" stroke-width="1.2"/>
<circle cx="200.0" cy="528.0" r="15.0" fill="rgb(52,6,114)" fill-opacity="0.22" stroke="rgb(44,5,96)" stroke-opacity="0.26" stroke-width="1.2"/>
<circle cx="212.0" cy="524.0" r="11.5" fill="rgb(52,6,114)" fill-opacity="0.22" stroke="rgb(44,5,96)" stroke-opacity="0.26" stroke-width="1.2"/>
<circle cx="195.0" cy="534.0" r="11.5" fill="rgb(52,6,114)" fill-opacity="0.22" stroke="rgb(44,5,96)" stroke-opacity="0.26" stroke-width="1.2"/>
<circle cx="547.2" cy="155.8" r="7.6" fill="rgb(52,6,114)" fill-opacity="0.22" stroke="rgb(44,5,96)" stroke-opacity="0.26" stroke-width="1.2"/>
<circle cx="560.4" cy="162.7" r="7.6" fill="rgb(52,6,114)" fill-opacity="0.22" stroke="rgb(44,5,96)" stroke-opacity="0.26" stroke-width="1.2"/>
<circle cx="580.0" cy="113.3" r="10.3" fill="rgb(52,6,114)" fill-opacity="0.22" stroke="rgb(44,5,96)" stroke-opacity="0.26" stroke-width="1.2"/>
<circle cx="587.4" cy="117.9" r="7.6" fill="rgb(52,6,114)" fill-opacity="0.22" stroke="rgb(44,5,96)" stroke-opacity="0.26" stroke-width="1.2"/>
<circle cx="589.7" cy="125.9" r="7.6" fill="rgb(52,6,114)" fill-opacity="0.22" stroke="rgb(44,5,96)" stroke-opacity="0.26" stroke-width="1.2"/>
<circle cx="609.2" cy="108.7" r="7.6" fill="rgb(52,6,114)" fill-opacity="0.22" stroke="rgb(44,5,96)" stroke-opacity="0.26" stroke-width="1.2"/>
<circle cx="615.0" cy="103.0" r="7.6" fill="rgb(52,6,114)" fill-opacity="0.22" stroke="rgb(44,5,96)" stroke-opacity="0.26" stroke-width="1.2"/>
<circle cx="614.4" cy="123.6" r="7.6" fill="rgb(52,6,114)" fill-opacity="0.22" stroke="rgb(44,5,96)" stroke-opacity="0.26" stroke-width="1.2"/>
<circle cx="614.4" cy="123.6" r="7.6" fill="rgb(52,6,114)" fill-opacity="0.22" stroke="rgb(44,5,96)" stroke-opacity="0.26" stroke-width="1.2"/>
<circle cx="633.3" cy="100.5" r="7.6" fill="rgb(52,6,114)" fill-opacity="0.22" stroke="rgb(44,5,96)" stroke-opacity="0.26" stroke-width="1.2"/>
<circle cx="647.5" cy="105.0" r="6.8" fill="rgb(52,6,114)" fill-opacity="0.22" stroke="rgb(44,5,96)" stroke-opacity="0.26" stroke-width="1.2"/>
<circle cx="658.0" cy="98.3" r="7.4" fill="rgb(52,6,114)" fill-opacity="0.22" stroke="rgb(44,5,96)" stroke-opacity="0.26" stroke-width="1.2"/>
<circle cx="662.2" cy="115.3" r="7.6" fill="rgb(52,6,114)" fill-opacity="0.22" stroke="rgb(44,5,96)" stroke-opacity="0.26" stroke-width="1.2"/>
<circle cx="637.0" cy="126.8" r="7.6" fill="rgb(52,6,114)" fill-opacity="0.22" stroke="rgb(44,5,96)" stroke-opacity="0.26" stroke-width="1.2"/>
<circle cx="600.0" cy="115.0" r="7.6" fill="rgb(52,6,114)" fill-opacity="0.22" stroke="rgb(44,5,96)" stroke-opacity="0.26" stroke-width="1.2"/>
<circle cx="605.0" cy="122.0" r="7.6" fill="rgb(52,6,114)" fill-opacity="0.22" stroke="rgb(44,5,96)" stroke-opacity="0.26" stroke-width="1.2"/>
<circle cx="596.0" cy="122.0" r="7.6" fill="rgb(52,6,114)" fill-opacity="0.22" stroke="rgb(44,5,96)" stroke-opacity="0.26" stroke-width="1.2"/>
<circle cx="608.0" cy="116.0" r="7.6" fill="rgb(52,6,114)" fill-opacity="0.22" stroke="rgb(44,5,96)" stroke-opacity="0.26" stroke-width="1.2"/>
</g>
<g id="front">
<path d="M811.5,362.9C817.9,359.8 836.9,350.9 850.0,344.1C863.1,337.3 876.7,329.7 890.0,322.3C903.3,314.9 913.3,309.7 930.0,299.7C946.7,289.7 968.3,275.7 990.0,262.5C1011.7,249.3 1036.7,235.2 1060.0,220.5C1083.3,205.8 1111.7,186.4 1130.0,174.1C1148.3,161.8 1156.7,155.9 1170.0,146.8C1183.3,137.7 1196.7,128.7 1210.0,119.3C1223.3,109.9 1238.3,98.8 1250.0,90.2C1261.7,81.6 1268.5,76.5 1280.0,67.9C1291.5,59.3 1312.3,43.4 1318.8,38.5L1318.8,167.6C1312.3,171.2 1291.5,182.8 1280.0,189.0C1268.5,195.2 1261.7,198.7 1250.0,205.0C1238.3,211.3 1223.3,219.3 1210.0,226.7C1196.7,234.1 1183.3,241.8 1170.0,249.4C1156.7,257.0 1148.3,261.6 1130.0,272.4C1111.7,283.2 1083.3,299.3 1060.0,314.1C1036.7,328.9 1011.7,346.6 990.0,361.4C968.3,376.2 946.7,391.1 930.0,402.8C913.3,414.5 903.3,422.0 890.0,431.6C876.7,441.2 863.1,450.9 850.0,460.2C836.9,469.5 817.9,482.9 811.5,487.5Z" fill="rgb(62,136,200)" fill-opacity="0.40"/>
<path d="M845.0,461.5C849.2,459.6 860.8,454.4 870.0,450.0C879.2,445.6 890.0,440.5 900.0,435.0C910.0,429.5 920.0,423.2 930.0,417.0C940.0,410.8 950.0,404.6 960.0,398.0C970.0,391.4 980.0,384.6 990.0,377.5C1000.0,370.4 1009.3,363.1 1020.0,355.5C1030.7,347.9 1044.4,339.0 1054.4,332.0C1064.4,325.0 1072.3,319.1 1080.0,313.5C1087.7,307.9 1093.2,304.1 1100.4,298.5C1107.6,292.9 1116.7,285.1 1123.3,279.8C1129.9,274.6 1132.2,273.3 1140.0,267.0C1147.8,260.7 1161.1,249.4 1170.0,241.8C1178.9,234.2 1189.6,224.6 1193.5,221.2L1193.5,438.6C1189.3,440.3 1178.0,445.1 1168.6,448.9C1159.2,452.7 1147.6,456.9 1137.1,461.4C1126.6,465.8 1116.2,470.9 1105.7,475.6C1095.2,480.3 1084.8,484.5 1074.3,489.7C1063.8,494.9 1053.4,501.0 1042.9,507.0C1032.4,513.0 1021.9,519.5 1011.4,525.9C1000.9,532.3 989.6,538.8 980.0,545.5C970.4,552.2 964.6,558.3 954.0,566.0C943.4,573.7 930.3,582.2 916.3,591.8C902.3,601.4 881.9,614.8 870.0,623.4C858.1,632.0 849.2,640.0 845.0,643.3Z" fill="rgb(177,239,231)" fill-opacity="0.37"/>
<path d="M845.0,553.0L1193.8,328.4" stroke="rgb(177,239,231)" stroke-width="4" stroke-linecap="round"/>
<path d="M811.5,425.6L1318.8,103.2" stroke="rgb(62,136,200)" stroke-width="5" stroke-linecap="round"/>
<circle cx="955.4" cy="338.5" r="11.4" fill="rgb(177,239,231)" fill-opacity="0.30" stroke="rgb(150,203,196)" stroke-opacity="0.10" stroke-width="1.2"/>
<circle cx="999.6" cy="315.8" r="11.4" fill="rgb(177,239,231)" fill-opacity="0.30" stroke="rgb(150,203,196)" stroke-opacity="0.10" stroke-width="1.2"/>
<circle cx="990.8" cy="346.0" r="7.6" fill="rgb(177,239,231)" fill-opacity="0.30" stroke="rgb(150,203,196)" stroke-opacity="0.10" stroke-width="1.2"/>
<circle cx="1038.7" cy="336.0" r="11.4" fill="rgb(177,239,231)" fill-opacity="0.30" stroke="rgb(150,203,196)" stroke-opacity="0.10" stroke-width="1.2"/>
<circle cx="936.5" cy="390.8" r="7.6" fill="rgb(177,239,231)" fill-opacity="0.30" stroke="rgb(150,203,196)" stroke-opacity="0.10" stroke-width="1.2"/>
<circle cx="1084.5" cy="308.0" r="15.6" fill="rgb(177,239,231)" fill-opacity="0.30" stroke="rgb(150,203,196)" stroke-opacity="0.10" stroke-width="1.2"/>
<circle cx="1193.0" cy="286.7" r="7.6" fill="rgb(177,239,231)" fill-opacity="0.30" stroke="rgb(150,203,196)" stroke-opacity="0.10" stroke-width="1.2"/>
<circle cx="1140.3" cy="170.2" r="11.4" fill="rgb(177,239,231)" fill-opacity="0.30" stroke="rgb(150,203,196)" stroke-opacity="0.10" stroke-width="1.2"/>
<circle cx="1092.0" cy="220.0" r="9.0" fill="rgb(177,239,231)" fill-opacity="0.30" stroke="rgb(150,203,196)" stroke-opacity="0.10" stroke-width="1.2"/>
<circle cx="846.0" cy="478.4" r="7.6" fill="rgb(177,239,231)" fill-opacity="0.30" stroke="rgb(150,203,196)" stroke-opacity="0.10" stroke-width="1.2"/>
<circle cx="862.0" cy="486.7" r="5.5" fill="rgb(177,239,231)" fill-opacity="0.30" stroke="rgb(150,203,196)" stroke-opacity="0.10" stroke-width="1.2"/>
<circle cx="869.5" cy="489.2" r="7.6" fill="rgb(177,239,231)" fill-opacity="0.30" stroke="rgb(150,203,196)" stroke-opacity="0.10" stroke-width="1.2"/>
<circle cx="980.7" cy="512.5" r="7.6" fill="rgb(177,239,231)" fill-opacity="0.30" stroke="rgb(150,203,196)" stroke-opacity="0.10" stroke-width="1.2"/>
<circle cx="961.7" cy="532.2" r="11.4" fill="rgb(177,239,231)" fill-opacity="0.30" stroke="rgb(150,203,196)" stroke-opacity="0.10" stroke-width="1.2"/>
<circle cx="941.5" cy="539.7" r="7.6" fill="rgb(177,239,231)" fill-opacity="0.30" stroke="rgb(150,203,196)" stroke-opacity="0.10" stroke-width="1.2"/>
<circle cx="894.8" cy="560.0" r="19.4" fill="rgb(177,239,231)" fill-opacity="0.30" stroke="rgb(150,203,196)" stroke-opacity="0.10" stroke-width="1.2"/>
<circle cx="942.8" cy="563.7" r="15.0" fill="rgb(177,239,231)" fill-opacity="0.30" stroke="rgb(150,203,196)" stroke-opacity="0.10" stroke-width="1.2"/>
<circle cx="932.7" cy="602.9" r="19.4" fill="rgb(177,239,231)" fill-opacity="0.30" stroke="rgb(150,203,196)" stroke-opacity="0.10" stroke-width="1.2"/>
<circle cx="908.0" cy="613.7" r="7.6" fill="rgb(177,239,231)" fill-opacity="0.30" stroke="rgb(150,203,196)" stroke-opacity="0.10" stroke-width="1.2"/>
<circle cx="1043.8" cy="564.2" r="11.4" fill="rgb(177,239,231)" fill-opacity="0.30" stroke="rgb(150,203,196)" stroke-opacity="0.10" stroke-width="1.2"/>
<circle cx="1057.7" cy="557.4" r="11.4" fill="rgb(177,239,231)" fill-opacity="0.30" stroke="rgb(150,203,196)" stroke-opacity="0.10" stroke-width="1.2"/>
<circle cx="918.8" cy="546.0" r="7.6" fill="rgb(177,239,231)" fill-opacity="0.30" stroke="rgb(150,203,196)" stroke-opacity="0.10" stroke-width="1.2"/>
<circle cx="1116.0" cy="477.8" r="7.6" fill="rgb(177,239,231)" fill-opacity="0.30" stroke="rgb(150,203,196)" stroke-opacity="0.10" stroke-width="1.2"/>
<circle cx="1111.5" cy="555.5" r="11.5" fill="rgb(177,239,231)" fill-opacity="0.30" stroke="rgb(150,203,196)" stroke-opacity="0.10" stroke-width="1.2"/>
<circle cx="927.1" cy="102.7" r="7.6" fill="rgb(62,136,200)" fill-opacity="0.38" stroke="rgb(52,115,170)" stroke-opacity="0.42" stroke-width="1.2"/>
<circle cx="956.2" cy="115.9" r="7.6" fill="rgb(62,136,200)" fill-opacity="0.38" stroke="rgb(52,115,170)" stroke-opacity="0.42" stroke-width="1.2"/>
<circle cx="975.6" cy="112.0" r="7.6" fill="rgb(62,136,200)" fill-opacity="0.38" stroke="rgb(52,115,170)" stroke-opacity="0.42" stroke-width="1.2"/>
<circle cx="985.7" cy="102.5" r="11.4" fill="rgb(62,136,200)" fill-opacity="0.38" stroke="rgb(52,115,170)" stroke-opacity="0.42" stroke-width="1.2"/>
<circle cx="917.5" cy="152.5" r="7.6" fill="rgb(62,136,200)" fill-opacity="0.38" stroke="rgb(52,115,170)" stroke-opacity="0.42" stroke-width="1.2"/>
<circle cx="937.2" cy="178.5" r="7.6" fill="rgb(62,136,200)" fill-opacity="0.38" stroke="rgb(52,115,170)" stroke-opacity="0.42" stroke-width="1.2"/>
<circle cx="932.2" cy="196.2" r="7.6" fill="rgb(62,136,200)" fill-opacity="0.38" stroke="rgb(52,115,170)" stroke-opacity="0.42" stroke-width="1.2"/>
<circle cx="950.9" cy="189.0" r="7.2" fill="rgb(62,136,200)" fill-opacity="0.38" stroke="rgb(52,115,170)" stroke-opacity="0.42" stroke-width="1.2"/>
<circle cx="961.0" cy="184.0" r="7.6" fill="rgb(62,136,200)" fill-opacity="0.38" stroke="rgb(52,115,170)" stroke-opacity="0.42" stroke-width="1.2"/>
<circle cx="999.6" cy="146.2" r="19.4" fill="rgb(62,136,200)" fill-opacity="0.38" stroke="rgb(52,115,170)" stroke-opacity="0.42" stroke-width="1.2"/>
<circle cx="985.7" cy="136.8" r="7.5" fill="rgb(62,136,200)" fill-opacity="0.38" stroke="rgb(52,115,170)" stroke-opacity="0.42" stroke-width="1.2"/>
<circle cx="986.2" cy="139.8" r="7.0" fill="rgb(62,136,200)" fill-opacity="0.38" stroke="rgb(52,115,170)" stroke-opacity="0.42" stroke-width="1.2"/>
<circle cx="1014.2" cy="122.4" r="3.5" fill="rgb(62,136,200)" fill-opacity="0.38" stroke="rgb(52,115,170)" stroke-opacity="0.42" stroke-width="1.2"/>
<circle cx="1023.6" cy="122.2" r="7.6" fill="rgb(62,136,200)" fill-opacity="0.38" stroke="rgb(52,115,170)" stroke-opacity="0.42" stroke-width="1.2"/>
<circle cx="1033.7" cy="108.3" r="7.6" fill="rgb(62,136,200)" fill-opacity="0.38" stroke="rgb(52,115,170)" stroke-opacity="0.42" stroke-width="1.2"/>
<circle cx="1038.7" cy="113.3" r="11.4" fill="rgb(62,136,200)" fill-opacity="0.38" stroke="rgb(52,115,170)" stroke-opacity="0.42" stroke-width="1.2"/>
<circle cx="1062.7" cy="103.2" r="11.4" fill="rgb(62,136,200)" fill-opacity="0.38" stroke="rgb(52,115,170)" stroke-opacity="0.42" stroke-width="1.2"/>
<circle cx="1033.2" cy="138.0" r="7.6" fill="rgb(62,136,200)" fill-opacity="0.38" stroke="rgb(52,115,170)" stroke-opacity="0.42" stroke-width="1.2"/>
<circle cx="1043.3" cy="148.7" r="7.6" fill="rgb(62,136,200)" fill-opacity="0.38" stroke="rgb(52,115,170)" stroke-opacity="0.42" stroke-width="1.2"/>
<circle cx="1052.6" cy="137.3" r="7.6" fill="rgb(62,136,200)" fill-opacity="0.38" stroke="rgb(52,115,170)" stroke-opacity="0.42" stroke-width="1.2"/>
<circle cx="1062.7" cy="144.9" r="7.6" fill="rgb(62,136,200)" fill-opacity="0.38" stroke="rgb(52,115,170)" stroke-opacity="0.42" stroke-width="1.2"/>
<circle cx="1067.8" cy="141.0" r="7.6" fill="rgb(62,136,200)" fill-opacity="0.38" stroke="rgb(52,115,170)" stroke-opacity="0.42" stroke-width="1.2"/>
<circle cx="1081.7" cy="148.2" r="7.6" fill="rgb(62,136,200)" fill-opacity="0.38" stroke="rgb(52,115,170)" stroke-opacity="0.42" stroke-width="1.2"/>
<circle cx="1052.6" cy="170.2" r="7.6" fill="rgb(62,136,200)" fill-opacity="0.38" stroke="rgb(52,115,170)" stroke-opacity="0.42" stroke-width="1.2"/>
<circle cx="1048.0" cy="177.7" r="7.6" fill="rgb(62,136,200)" fill-opacity="0.38" stroke="rgb(52,115,170)" stroke-opacity="0.42" stroke-width="1.2"/>
<circle cx="1076.6" cy="179.0" r="7.6" fill="rgb(62,136,200)" fill-opacity="0.38" stroke="rgb(52,115,170)" stroke-opacity="0.42" stroke-width="1.2"/>
<circle cx="1072.3" cy="191.6" r="7.6" fill="rgb(62,136,200)" fill-opacity="0.38" stroke="rgb(52,115,170)" stroke-opacity="0.42" stroke-width="1.2"/>
<circle cx="1067.8" cy="192.0" r="3.5" fill="rgb(62,136,200)" fill-opacity="0.38" stroke="rgb(52,115,170)" stroke-opacity="0.42" stroke-width="1.2"/>
<circle cx="1028.6" cy="218.9" r="11.4" fill="rgb(62,136,200)" fill-opacity="0.38" stroke="rgb(52,115,170)" stroke-opacity="0.42" stroke-width="1.2"/>
<circle cx="1038.7" cy="230.8" r="7.6" fill="rgb(62,136,200)" fill-opacity="0.38" stroke="rgb(52,115,170)" stroke-opacity="0.42" stroke-width="1.2"/>
<circle cx="1116.0" cy="112.0" r="7.6" fill="rgb(62,136,200)" fill-opacity="0.38" stroke="rgb(52,115,170)" stroke-opacity="0.42" stroke-width="1.2"/>
<circle cx="1159.2" cy="104.0" r="7.6" fill="rgb(62,136,200)" fill-opacity="0.38" stroke="rgb(52,115,170)" stroke-opacity="0.42" stroke-width="1.2"/>
<circle cx="1188.3" cy="108.3" r="7.6" fill="rgb(62,136,200)" fill-opacity="0.38" stroke="rgb(52,115,170)" stroke-opacity="0.42" stroke-width="1.2"/>
<circle cx="1202.7" cy="107.0" r="7.6" fill="rgb(62,136,200)" fill-opacity="0.38" stroke="rgb(52,115,170)" stroke-opacity="0.42" stroke-width="1.2"/>
<circle cx="1251.2" cy="100.7" r="7.6" fill="rgb(62,136,200)" fill-opacity="0.38" stroke="rgb(52,115,170)" stroke-opacity="0.42" stroke-width="1.2"/>
<circle cx="1097.1" cy="134.8" r="7.6" fill="rgb(62,136,200)" fill-opacity="0.38" stroke="rgb(52,115,170)" stroke-opacity="0.42" stroke-width="1.2"/>
<circle cx="1111.3" cy="139.8" r="3.5" fill="rgb(62,136,200)" fill-opacity="0.38" stroke="rgb(52,115,170)" stroke-opacity="0.42" stroke-width="1.2"/>
<circle cx="1130.7" cy="138.6" r="15.6" fill="rgb(62,136,200)" fill-opacity="0.38" stroke="rgb(52,115,170)" stroke-opacity="0.42" stroke-width="1.2"/>
<circle cx="1101.7" cy="155.0" r="7.6" fill="rgb(62,136,200)" fill-opacity="0.38" stroke="rgb(52,115,170)" stroke-opacity="0.42" stroke-width="1.2"/>
<circle cx="1092.0" cy="200.5" r="11.4" fill="rgb(62,136,200)" fill-opacity="0.38" stroke="rgb(52,115,170)" stroke-opacity="0.42" stroke-width="1.2"/>
<circle cx="1140.3" cy="170.2" r="7.6" fill="rgb(62,136,200)" fill-opacity="0.38" stroke="rgb(52,115,170)" stroke-opacity="0.42" stroke-width="1.2"/>
<circle cx="1169.0" cy="155.8" r="11.4" fill="rgb(62,136,200)" fill-opacity="0.38" stroke="rgb(52,115,170)" stroke-opacity="0.42" stroke-width="1.2"/>
<circle cx="1183.2" cy="170.2" r="15.6" fill="rgb(62,136,200)" fill-opacity="0.38" stroke="rgb(52,115,170)" stroke-opacity="0.42" stroke-width="1.2"/>
<circle cx="1203.4" cy="181.0" r="11.4" fill="rgb(62,136,200)" fill-opacity="0.38" stroke="rgb(52,115,170)" stroke-opacity="0.42" stroke-width="1.2"/>
<circle cx="1217.3" cy="151.2" r="7.6" fill="rgb(62,136,200)" fill-opacity="0.38" stroke="rgb(52,115,170)" stroke-opacity="0.42" stroke-width="1.2"/>
<circle cx="1164.3" cy="199.7" r="7.6" fill="rgb(62,136,200)" fill-opacity="0.38" stroke="rgb(52,115,170)" stroke-opacity="0.42" stroke-width="1.2"/>
<circle cx="1179.2" cy="197.4" r="7.6" fill="rgb(62,136,200)" fill-opacity="0.38" stroke="rgb(52,115,170)" stroke-opacity="0.42" stroke-width="1.2"/>
<circle cx="1169.0" cy="226.5" r="7.6" fill="rgb(62,136,200)" fill-opacity="0.38" stroke="rgb(52,115,170)" stroke-opacity="0.42" stroke-width="1.2"/>
<circle cx="1111.3" cy="221.2" r="7.6" fill="rgb(62,136,200)" fill-opacity="0.38" stroke="rgb(52,115,170)" stroke-opacity="0.42" stroke-width="1.2"/>
<circle cx="1111.3" cy="229.5" r="11.4" fill="rgb(62,136,200)" fill-opacity="0.38" stroke="rgb(52,115,170)" stroke-opacity="0.42" stroke-width="1.2"/>
<circle cx="1231.7" cy="112.0" r="7.6" fill="rgb(62,136,200)" fill-opacity="0.38" stroke="rgb(52,115,170)" stroke-opacity="0.42" stroke-width="1.2"/>
<circle cx="1234.2" cy="126.0" r="8.8" fill="rgb(62,136,200)" fill-opacity="0.38" stroke="rgb(52,115,170)" stroke-opacity="0.42" stroke-width="1.2"/>
<circle cx="1236.8" cy="122.2" r="7.0" fill="rgb(62,136,200)" fill-opacity="0.38" stroke="rgb(52,115,170)" stroke-opacity="0.42" stroke-width="1.2"/>
<circle cx="1250.7" cy="118.4" r="7.6" fill="rgb(62,136,200)" fill-opacity="0.38" stroke="rgb(52,115,170)" stroke-opacity="0.42" stroke-width="1.2"/>
<circle cx="1252.0" cy="127.2" r="11.4" fill="rgb(62,136,200)" fill-opacity="0.38" stroke="rgb(52,115,170)" stroke-opacity="0.42" stroke-width="1.2"/>
<circle cx="1246.9" cy="144.9" r="11.4" fill="rgb(62,136,200)" fill-opacity="0.38" stroke="rgb(52,115,170)" stroke-opacity="0.42" stroke-width="1.2"/>
<circle cx="1270.9" cy="132.3" r="7.6" fill="rgb(62,136,200)" fill-opacity="0.38" stroke="rgb(52,115,170)" stroke-opacity="0.42" stroke-width="1.2"/>
<circle cx="1270.9" cy="148.7" r="7.6" fill="rgb(62,136,200)" fill-opacity="0.38" stroke="rgb(52,115,170)" stroke-opacity="0.42" stroke-width="1.2"/>
<circle cx="1298.6" cy="131.0" r="7.6" fill="rgb(62,136,200)" fill-opacity="0.38" stroke="rgb(52,115,170)" stroke-opacity="0.42" stroke-width="1.2"/>
<circle cx="1305.0" cy="119.6" r="7.0" fill="rgb(62,136,200)" fill-opacity="0.38" stroke="rgb(52,115,170)" stroke-opacity="0.42" stroke-width="1.2"/>
<circle cx="1314.3" cy="129.2" r="3.5" fill="rgb(62,136,200)" fill-opacity="0.38" stroke="rgb(52,115,170)" stroke-opacity="0.42" stroke-width="1.2"/>
<circle cx="1318.8" cy="170.2" r="3.5" fill="rgb(62,136,200)" fill-opacity="0.38" stroke="rgb(52,115,170)" stroke-opacity="0.42" stroke-width="1.2"/>
<circle cx="1265.8" cy="253.0" r="7.6" fill="rgb(62,136,200)" fill-opacity="0.38" stroke="rgb(52,115,170)" stroke-opacity="0.42" stroke-width="1.2"/>
<circle cx="1279.7" cy="266.0" r="7.6" fill="rgb(62,136,200)" fill-opacity="0.38" stroke="rgb(52,115,170)" stroke-opacity="0.42" stroke-width="1.2"/>
<circle cx="956.2" cy="284.4" r="7.6" fill="rgb(62,136,200)" fill-opacity="0.38" stroke="rgb(52,115,170)" stroke-opacity="0.42" stroke-width="1.2"/>
<circle cx="913.0" cy="314.2" r="7.6" fill="rgb(62,136,200)" fill-opacity="0.38" stroke="rgb(52,115,170)" stroke-opacity="0.42" stroke-width="1.2"/>
<circle cx="922.0" cy="356.2" r="15.6" fill="rgb(62,136,200)" fill-opacity="0.38" stroke="rgb(52,115,170)" stroke-opacity="0.42" stroke-width="1.2"/>
<circle cx="1004.6" cy="334.0" r="15.6" fill="rgb(62,136,200)" fill-opacity="0.38" stroke="rgb(52,115,170)" stroke-opacity="0.42" stroke-width="1.2"/>
<circle cx="1048.0" cy="307.2" r="3.5" fill="rgb(62,136,200)" fill-opacity="0.38" stroke="rgb(52,115,170)" stroke-opacity="0.42" stroke-width="1.2"/>
<circle cx="1033.7" cy="367.5" r="7.6" fill="rgb(62,136,200)" fill-opacity="0.38" stroke="rgb(52,115,170)" stroke-opacity="0.42" stroke-width="1.2"/>
<circle cx="990.3" cy="410.5" r="7.6" fill="rgb(62,136,200)" fill-opacity="0.38" stroke="rgb(52,115,170)" stroke-opacity="0.42" stroke-width="1.2"/>
<circle cx="1043.3" cy="411.7" r="7.6" fill="rgb(62,136,200)" fill-opacity="0.38" stroke="rgb(52,115,170)" stroke-opacity="0.42" stroke-width="1.2"/>
<circle cx="1217.3" cy="352.4" r="7.6" fill="rgb(62,136,200)" fill-opacity="0.38" stroke="rgb(52,115,170)" stroke-opacity="0.42" stroke-width="1.2"/>
<circle cx="1159.2" cy="379.0" r="7.6" fill="rgb(62,136,200)" fill-opacity="0.38" stroke="rgb(52,115,170)" stroke-opacity="0.42" stroke-width="1.2"/>
<circle cx="820.8" cy="448.3" r="7.6" fill="rgb(62,136,200)" fill-opacity="0.38" stroke="rgb(52,115,170)" stroke-opacity="0.42" stroke-width="1.2"/>
<circle cx="814.0" cy="442.0" r="7.0" fill="rgb(62,136,200)" fill-opacity="0.38" stroke="rgb(52,115,170)" stroke-opacity="0.42" stroke-width="1.2"/>
<circle cx="811.5" cy="439.5" r="3.5" fill="rgb(62,136,200)" fill-opacity="0.38" stroke="rgb(52,115,170)" stroke-opacity="0.42" stroke-width="1.2"/>
<circle cx="811.5" cy="467.0" r="7.6" fill="rgb(62,136,200)" fill-opacity="0.38" stroke="rgb(52,115,170)" stroke-opacity="0.42" stroke-width="1.2"/>
<circle cx="840.5" cy="460.7" r="7.6" fill="rgb(62,136,200)" fill-opacity="0.38" stroke="rgb(52,115,170)" stroke-opacity="0.42" stroke-width="1.2"/>
<circle cx="908.0" cy="462.7" r="7.6" fill="rgb(62,136,200)" fill-opacity="0.38" stroke="rgb(52,115,170)" stroke-opacity="0.42" stroke-width="1.2"/>
<circle cx="961.2" cy="450.0" r="7.6" fill="rgb(62,136,200)" fill-opacity="0.38" stroke="rgb(52,115,170)" stroke-opacity="0.42" stroke-width="1.2"/>
<circle cx="956.7" cy="487.2" r="11.4" fill="rgb(62,136,200)" fill-opacity="0.38" stroke="rgb(52,115,170)" stroke-opacity="0.42" stroke-width="1.2"/>
<circle cx="845.0" cy="538.0" r="7.6" fill="rgb(62,136,200)" fill-opacity="0.38" stroke="rgb(52,115,170)" stroke-opacity="0.42" stroke-width="1.2"/>
<circle cx="908.0" cy="529.6" r="7.6" fill="rgb(62,136,200)" fill-opacity="0.38" stroke="rgb(52,115,170)" stroke-opacity="0.42" stroke-width="1.2"/>
<circle cx="922.3" cy="534.0" r="7.6" fill="rgb(62,136,200)" fill-opacity="0.38" stroke="rgb(52,115,170)" stroke-opacity="0.42" stroke-width="1.2"/>
<circle cx="913.0" cy="558.2" r="7.6" fill="rgb(62,136,200)" fill-opacity="0.38" stroke="rgb(52,115,170)" stroke-opacity="0.42" stroke-width="1.2"/>
<circle cx="922.8" cy="570.0" r="11.4" fill="rgb(62,136,200)" fill-opacity="0.38" stroke="rgb(52,115,170)" stroke-opacity="0.42" stroke-width="1.2"/>
<circle cx="907.7" cy="626.4" r="7.6" fill="rgb(62,136,200)" fill-opacity="0.38" stroke="rgb(52,115,170)" stroke-opacity="0.42" stroke-width="1.2"/>
<circle cx="1062.7" cy="540.3" r="7.6" fill="rgb(62,136,200)" fill-opacity="0.38" stroke="rgb(52,115,170)" stroke-opacity="0.42" stroke-width="1.2"/>
<circle cx="1082.0" cy="533.6" r="11.5" fill="rgb(62,136,200)" fill-opacity="0.38" stroke="rgb(52,115,170)" stroke-opacity="0.42" stroke-width="1.2"/>
<circle cx="1120.6" cy="523.0" r="7.6" fill="rgb(62,136,200)" fill-opacity="0.38" stroke="rgb(52,115,170)" stroke-opacity="0.42" stroke-width="1.2"/>
<circle cx="1154.5" cy="530.3" r="11.5" fill="rgb(62,136,200)" fill-opacity="0.38" stroke="rgb(52,115,170)" stroke-opacity="0.42" stroke-width="1.2"/>
</g>
<g stroke="#111" stroke-width="1.5" fill="none">
<rect x="137.6" y="10.4" width="1253.0" height="731.0"/>
<line x1="763.4" y1="10.4" x2="763.4" y2="741.4"/>
<line x1="121.4" y1="714.6" x2="137.6" y2="714.6"/>
<line x1="121.4" y1="601.7" x2="137.6" y2="601.7"/>
<line x1="121.4" y1="488.9" x2="137.6" y2="488.9"/>
<line x1="121.4" y1="376.0" x2="137.6" y2="376.0"/>
<line x1="121.4" y1="263.1" x2="137.6" y2="263.1"/>
<line x1="121.4" y1="150.3" x2="137.6" y2="150.3"/>
<line x1="121.4" y1="37.4" x2="137.6" y2="37.4"/>
<line x1="257.0" y1="741.4" x2="257.0" y2="757.6"/>
<line x1="402.0" y1="741.4" x2="402.0" y2="757.6"/>
<line x1="552.0" y1="741.4" x2="552.0" y2="757.6"/>
<line x1="697.0" y1="741.4" x2="697.0" y2="757.6"/>
<line x1="884.0" y1="741.4" x2="884.0" y2="757.6"/>
<line x1="1029.1" y1="741.4" x2="1029.1" y2="757.6"/>
<line x1="1178.8" y1="741.4" x2="1178.8" y2="757.6"/>
<line x1="1324.0" y1="741.4" x2="1324.0" y2="757.6"/>
</g>
<g fill="#000" font-size="40.0" text-anchor="middle">
<text x="257.0" y="798.5">Apr</text>
<text x="402.0" y="798.5">May</text>
<text x="552.0" y="798.5">Jun</text>
<text x="697.0" y="798.5">Jul</text>
<text x="884.0" y="798.5">Apr</text>
<text x="1029.1" y="798.5">May</text>
<text x="1178.8" y="798.5">Jun</text>
<text x="1324.0" y="798.5">Jul</text>
<text transform="translate(100,714.6) rotate(-90)">40</text>
<text transform="translate(100,601.7) rotate(-90)">45</text>
<text transform="translate(100,488.9) rotate(-90)">50</text>
<text transform="translate(100,376.0) rotate(-90)">55</text>
<text transform="translate(100,263.1) rotate(-90)">60</text>
<text transform="translate(100,150.3) rotate(-90)">65</text>
<text transform="translate(100,37.4) rotate(-90)">70</text>
<text transform="translate(36.7,375) rotate(-90)" font-size="39.6">Latitude of Areas Restricted Search</text>
<text x="735.5" y="864.3">Date</text>
</g>
<g fill="#000" font-size="52.6" font-weight="bold">
<text x="175.5" y="79.3">GULF</text>
<text x="812.5" y="79.3">FRONT</text>
</g>
<g>
<rect x="592.7" y="590.0" width="20.6" height="20.4" fill="rgb(177,239,231)"/>
<text x="637.5" y="614.8" font-size="40" fill="#000">1990s</text>
<rect x="592.7" y="637.1" width="20.6" height="20.4" fill="rgb(62,136,200)"/>
<text x="637.5" y="661.8" font-size="40" fill="#000">2000s</text>
<rect x="592.7" y="684.2" width="20.6" height="20.4" fill="rgb(52,6,114)"/>
<text x="637.5" y="708.8" font-size="40" fill="#000">2010s</text>
</g>
<g>
<circle cx="1281.6" cy="584.6" r="3.5" fill="#d3d3d3"/>
<text x="1305" y="594.6" font-size="26.5" fill="#000">&lt;1d</text>
<circle cx="1281.6" cy="616.3" r="7.7" fill="#d3d3d3"/>
<text x="1305" y="626.3" font-size="26.5" fill="#000">&lt;7d</text>
<circle cx="1281.6" cy="648.0" r="11.6" fill="#d3d3d3"/>
<text x="1305" y="658.0" font-size="26.5" fill="#000">&lt;14d</text>
<circle cx="1281.6" cy="679.7" r="15.8" fill="#d3d3d3"/>
<text x="1305" y="689.7" font-size="26.5" fill="#000">&lt;21d</text>
<circle cx="1281.6" cy="711.4" r="19.6" fill="#d3d3d3"/>
<text x="1305" y="721.4" font-size="26.5" fill="#000">longer</text>
</g>
</svg>
</body></html>
